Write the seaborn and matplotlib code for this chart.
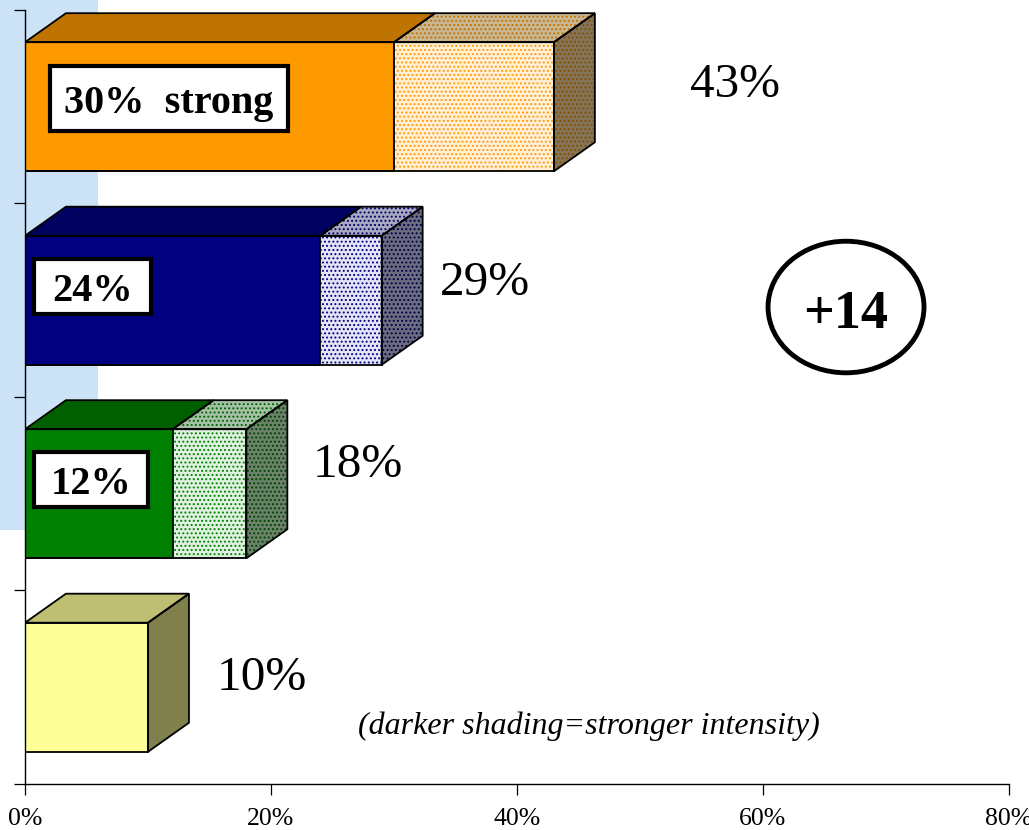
import matplotlib
matplotlib.use("Agg")
import matplotlib.pyplot as plt
from matplotlib.patches import Ellipse, Polygon, Rectangle
import seaborn as sns

# Data
categories = ["Group A", "Group B", "Group C", "Group D"]
strong_values = [30, 24, 12]
total_values = [43, 29, 18, 10]
strong_labels = ["30%  strong", "24%", "12%"]
total_labels = ["43%", "29%", "18%", "10%"]
x_ticks = [0, 20, 40, 60, 80]

front_colors = ["#FF9900", "#000080", "#008000", "#FFFF99"]
top_colors = ["#BF7300", "#000060", "#006000", "#BFBF73"]
side_colors = ["#805000", "#000040", "#004000", "#80804D"]

# pale tints under the dotted part of each bar
front_tints = ["#FFEFD6", "#E4E4F6", "#DFF2DF"]
top_tints = ["#C9B794", "#A9A9C4", "#A6C2A6"]
side_tints = ["#857458", "#6C6C82", "#6A826A"]

depth_x = 3.33
depth_y = 0.15
bar_width = 0.667
dots = "...."
outline = 1.3

sns.set_style("white")
plt.rcParams["font.family"] = ["Liberation Serif"]
plt.rcParams["text.color"] = "black"
plt.rcParams["hatch.linewidth"] = 0.9

fig = plt.figure(figsize=(10.29, 8.30), dpi=100)
ax = fig.add_axes([25 / 1029, 1 - 784 / 830, 984 / 1029, 774 / 830])
ax.patch.set_alpha(0)

# Pale panel behind the upper bars
ax.add_patch(Rectangle((-2.03, -0.55), 7.96, 2.737, fc="#CCE2F6", ec="none", clip_on=False, zorder=0))

# Front faces
sns.barplot(x=total_values, y=categories, order=categories, hue=categories, palette=front_colors,
            saturation=1, width=bar_width, legend=False, ax=ax, zorder=2)
total_bars = list(ax.patches)[1:]
for i, bar in enumerate(total_bars):
    if i < 3:
        bar.set(facecolor=front_tints[i], edgecolor=front_colors[i], hatch=dots, linewidth=0)
    else:
        bar.set(facecolor=front_colors[i], edgecolor="none")
    ax.add_patch(Rectangle(bar.get_xy(), bar.get_width(), bar.get_height(), fill=False, ec="black", lw=outline, zorder=4))

sns.barplot(x=strong_values, y=categories[:3], order=categories, hue=categories[:3], palette=front_colors[:3],
            saturation=1, width=bar_width, legend=False, ax=ax, zorder=3, edgecolor="black", linewidth=outline)


def add_face(points, color, base=None):
    if base is None:
        ax.add_patch(Polygon(points, fc=color, ec="none", zorder=3))
    else:
        ax.add_patch(Polygon(points, fc=base, ec=color, hatch=dots, lw=0, zorder=3))
    ax.add_patch(Polygon(points, fill=False, ec="black", lw=outline, zorder=4))


# Top and side faces worked out from the values
for i, total in enumerate(total_values):
    top = i - bar_width / 2
    bottom = i + bar_width / 2
    side_pts = [(total, top), (total + depth_x, top - depth_y), (total + depth_x, bottom - depth_y), (total, bottom)]
    if i < 3:
        strong = strong_values[i]
        add_face([(0, top), (depth_x, top - depth_y), (strong + depth_x, top - depth_y), (strong, top)], top_colors[i])
        add_face([(strong, top), (strong + depth_x, top - depth_y), (total + depth_x, top - depth_y), (total, top)],
                 top_colors[i], base=top_tints[i])
        add_face(side_pts, side_colors[i], base=side_tints[i])
    else:
        add_face([(0, top), (depth_x, top - depth_y), (total + depth_x, top - depth_y), (total, top)], top_colors[i])
        add_face(side_pts, side_colors[i])

# Value labels
label_x = [54.1, 33.7, 23.4, 15.6]
label_y = [-0.11, 0.91, 1.85, 2.95]
for x, y, text in zip(label_x, label_y, total_labels):
    ax.text(x, y, text, fontsize=35.5, color="black", va="center", ha="left", zorder=5)

# Boxed labels on the solid part of the bars
box_x = [(2.03, 21.4), (0.73, 10.24), (0.73, 10.0)]
box_y = [(-0.21, 0.125), (0.787, 1.071), (1.784, 2.068)]
for i, text in enumerate(strong_labels):
    x0, x1 = box_x[i]
    y0, y1 = box_y[i]
    ax.add_patch(Rectangle((x0, y0), x1 - x0, y1 - y0, fc="white", ec="black", lw=3, zorder=5))
    ax.text((x0 + x1) / 2, (y0 + y1) / 2 + 0.025, text, fontsize=29, fontweight="bold", color="black",
            va="center", ha="center", zorder=6)

# Circled difference
ax.add_patch(Ellipse((66.75, 1.035), 12.68, 0.68, fc="white", ec="black", lw=3.5, zorder=5))
ax.text(66.75, 1.075, "+14", fontsize=39, fontweight="bold", color="black", ha="center", va="center", zorder=6)

ax.text(27.07, 3.2, "(darker shading=stronger intensity)", fontsize=23, fontstyle="italic", color="black",
        va="center", ha="left", zorder=5)

# Axes
ax.set_xlim(0, 80)
ax.set_ylim(3.5, -0.5)
ax.set_xticks(x_ticks)
ax.set_xticklabels([f"{t}%" for t in x_ticks], fontsize=18.5, color="black")
ax.set_yticks([-0.5, 0.5, 1.5, 2.5, 3.5])
ax.set_yticklabels([])
ax.set_xlabel("")
ax.set_ylabel("")
ax.tick_params(axis="both", which="major", length=8, width=0.9, color="black", left=True, bottom=True, pad=9)
for name in ["top", "right"]:
    ax.spines[name].set_visible(False)
for name in ["left", "bottom"]:
    ax.spines[name].set(color="black", linewidth=1.0, zorder=7)

fig.savefig("out.png", dpi=100)
